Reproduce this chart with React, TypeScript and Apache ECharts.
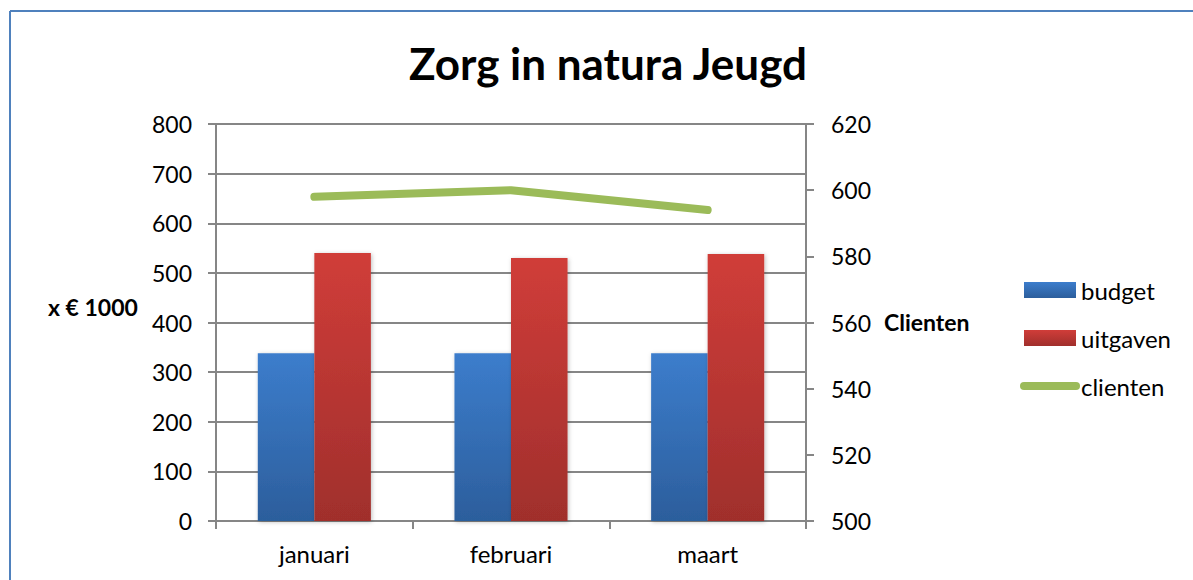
import React, { useEffect, useRef } from "react";
import * as echarts from "echarts";

const months = ["januari", "februari", "maart"];
const budget = [338, 338, 338];
const uitgaven = [540, 530, 538];
const clienten = [598, 600, 594];

const FONT = "Lato, 'Open Sans', sans-serif";

export default function App() {
  const ref = useRef<HTMLDivElement>(null);
  useEffect(() => {
    if (!ref.current) return;
    const chart = echarts.init(ref.current, null, { renderer: "svg" });
    const grad = (top: string, bottom: string) =>
      new echarts.graphic.LinearGradient(0, 0, 0, 1, [
        { offset: 0, color: top },
        { offset: 1, color: bottom },
      ]);
    chart.setOption({
      animation: false,
      backgroundColor: "#ffffff",
      textStyle: { fontFamily: FONT },
      title: {
        text: "Zorg in natura Jeugd",
        left: 603,
        top: 36,
        textAlign: "center",
        textStyle: { fontFamily: FONT, fontSize: 44, fontWeight: "bold", color: "#000" },
      },
      graphic: [
        {
          type: "line",
          shape: { x1: 10, y1: 11, x2: 1193, y2: 11 },
          style: { stroke: "#4F81BD", lineWidth: 2 },
          silent: true,
        },
        {
          type: "line",
          shape: { x1: 10, y1: 11, x2: 10, y2: 580 },
          style: { stroke: "#4F81BD", lineWidth: 2 },
          silent: true,
        },
        {
          type: "text",
          x: 48,
          y: 307,
          style: { text: "x € 1000", font: `bold 23px ${FONT}`, fill: "#000", textVerticalAlign: "middle" },
        },
        {
          type: "text",
          x: 884,
          y: 322,
          style: { text: "Clienten", font: `bold 23px ${FONT}`, fill: "#000", textVerticalAlign: "middle" },
        },
      ],
      legend: {
        orient: "vertical",
        left: 1020,
        top: 278,
        padding: 0,
        itemWidth: 52,
        itemHeight: 16,
        itemGap: 24,
        textStyle: { fontFamily: FONT, fontSize: 24, color: "#000", lineHeight: 24 },
        data: [
          { name: "budget", icon: "rect" },
          { name: "uitgaven", icon: "rect" },
          {
            name: "clienten",
            itemStyle: { opacity: 0 },
            lineStyle: { width: 8, cap: "round", color: "#9BBB59" },
          },
        ],
      },
      grid: { left: 216, right: 387, top: 124, bottom: 59 },
      xAxis: {
        type: "category",
        data: months,
        axisLine: { lineStyle: { color: "#868686", width: 2 } },
        axisTick: { show: true, length: 8, lineStyle: { color: "#868686", width: 2 } },
        axisLabel: { fontFamily: FONT, fontSize: 24, color: "#000", margin: 20 },
      },
      yAxis: [
        {
          type: "value",
          min: 0,
          max: 800,
          interval: 100,
          axisLine: { show: true, lineStyle: { color: "#868686", width: 2 } },
          axisTick: { show: true, length: 8, lineStyle: { color: "#868686", width: 2 } },
          axisLabel: { fontFamily: FONT, fontSize: 23, color: "#000", margin: 24 },
          splitLine: { show: true, lineStyle: { color: "#868686", width: 2 } },
        },
        {
          type: "value",
          min: 500,
          max: 620,
          interval: 20,
          position: "right",
          axisLine: { show: true, lineStyle: { color: "#868686", width: 2 } },
          axisTick: { show: true, length: 8, lineStyle: { color: "#868686", width: 2 } },
          axisLabel: { fontFamily: FONT, fontSize: 23, color: "#000", margin: 25 },
          splitLine: { show: false },
        },
      ],
      series: [
        {
          name: "budget",
          type: "bar",
          data: budget,
          barGap: "0%",
          barCategoryGap: "42.5%",
          itemStyle: {
            color: grad("#3C7DCC", "#2C5E9C"),
            shadowBlur: 4,
            shadowColor: "rgba(0,0,0,0.25)",
            shadowOffsetX: 1,
            shadowOffsetY: 1,
          },
        },
        {
          name: "uitgaven",
          type: "bar",
          data: uitgaven,
          itemStyle: {
            color: grad("#D03D39", "#A02F2C"),
            shadowBlur: 4,
            shadowColor: "rgba(0,0,0,0.25)",
            shadowOffsetX: 1,
            shadowOffsetY: 1,
          },
        },
        {
          name: "clienten",
          type: "line",
          yAxisIndex: 1,
          data: clienten,
          symbol: "none",
          color: "#9BBB59",
          lineStyle: { color: "#9BBB59", width: 8, cap: "round", join: "round" },
        },
      ],
    });
    return () => chart.dispose();
  }, []);
  return (
    <div
      ref={ref}
      style={{ position: "fixed", left: 0, top: 0, width: 1193, height: 580 }}
    />
  );
}
